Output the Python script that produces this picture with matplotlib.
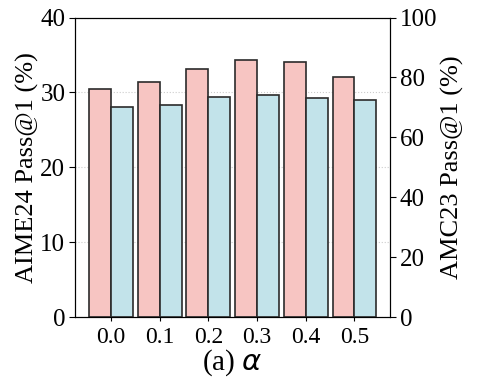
import matplotlib
matplotlib.use("Agg")
import matplotlib.pyplot as plt
import numpy as np

alphas = ["0.0", "0.1", "0.2", "0.3", "0.4", "0.5"]
aime24 = [30.4, 31.4, 33.2, 34.3, 34.1, 32.1]
amc23 = [70.0, 70.8, 73.4, 74.2, 73.0, 72.6]

plt.rcParams['font.family'] = ['Liberation Serif', 'DejaVu Serif']
plt.rcParams['mathtext.fontset'] = 'dejavusans'

fig = plt.figure(figsize=(4.79, 3.91), dpi=100)
ax = fig.add_axes([0.1566, 0.189, 0.8142 - 0.1566, 0.955 - 0.189])
ax2 = ax.twinx()

x = np.arange(len(alphas))
w = 0.45
ax.set_axisbelow(True)
ax.yaxis.grid(True, linestyle=':', color='#cccccc', linewidth=0.8)
ax.bar(x - w / 2, aime24, width=w, color='#F7C5C2', edgecolor='#2b2b2b', linewidth=1.2, zorder=2)
ax2.bar(x + w / 2, amc23, width=w, color='#C2E3EA', edgecolor='#2b2b2b', linewidth=1.2, zorder=2)

ax.set_xlim(-0.74, 5.73)
ax.set_ylim(0, 40)
ax2.set_ylim(0, 100)
ax.set_yticks([0, 10, 20, 30, 40])
ax2.set_yticks([0, 20, 40, 60, 80, 100])
ax.set_xticks(x)
ax.set_xticklabels(alphas)

ax.tick_params(axis='y', labelsize=18, length=4, pad=3)
ax.tick_params(axis='x', labelsize=17, length=3, pad=4)
ax2.tick_params(axis='y', labelsize=18, length=4, pad=3)

ax.set_ylabel('AIME24 Pass@1 (%)', fontsize=19, labelpad=1)
ax2.set_ylabel('AMC23 Pass@1 (%)', fontsize=19, labelpad=3)
ax.set_xlabel(r'(a) $\alpha$', fontsize=21, labelpad=0)

fig.savefig('out.png', dpi=100)
